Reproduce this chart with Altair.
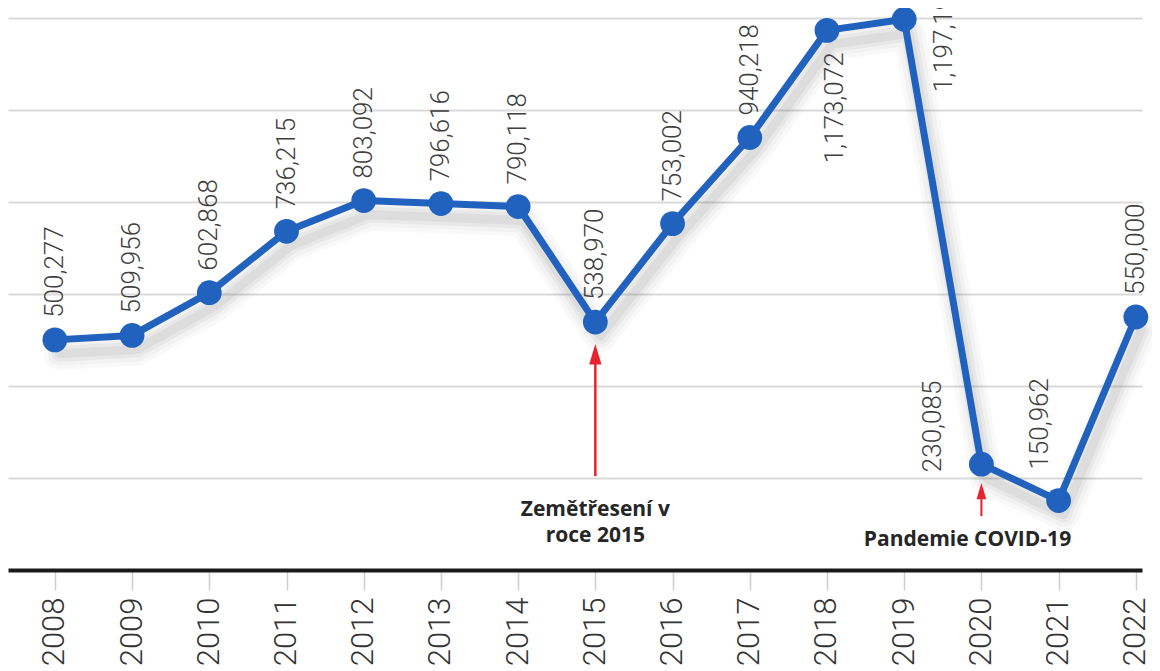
import altair as alt
import pandas as pd

# ---- data ----
years = [2008, 2009, 2010, 2011, 2012, 2013, 2014, 2015,
         2016, 2017, 2018, 2019, 2020, 2021, 2022]
arrivals = [500277, 509956, 602868, 736215, 803092, 796616, 790118, 538970,
            753002, 940218, 1173072, 1197191, 230085, 150962, 550000]

grid_values = [200000, 400000, 600000, 800000, 1000000, 1200000]

# label placement groups (relative to the point)
labels_above = [2008, 2009, 2010, 2011, 2012, 2013, 2014, 2015, 2016, 2017, 2022]
labels_below = [2018]
labels_right = [2019]
labels_left_2020 = [2020]
labels_left_2021 = [2021]

# annotations
quake_text = ["Zemětřesení v", "roce 2015"]
quake_year = [2015]
quake_text_value = [130000]
quake_shaft_from = [204000]
quake_shaft_to = [462000]
quake_head_value = [469000]

covid_text = ["Pandemie COVID-19"]
covid_text_year = [2019.82]
covid_text_value = [65000]
covid_year = [2020]
covid_shaft_from = [117000]
covid_shaft_to = [168000]
covid_head_value = [171500]

BLUE = "#2262bf"
RED = "#e8232d"
NARROW = "Roboto, Liberation Sans, sans-serif"

df = pd.DataFrame({"year": years, "arrivals": arrivals})

xscale = alt.Scale(domain=[2007.393, 2022.08], nice=False, zero=False)
yscale = alt.Scale(domain=[0, 1200000], nice=False, zero=True)

x = alt.X("year:Q", scale=xscale,
          axis=alt.Axis(values=years, format="d", title=None, grid=False,
                        labelAngle=270, labelAlign="right", labelBaseline="middle",
                        labelFont=NARROW, labelFontSize=31, labelFontWeight=300,
                        labelColor="#333333",
                        labelPadding=7, labelOverlap=False, labelFlush=False,
                        tickSize=20, tickColor="#cfcfcf", tickWidth=1.5,
                        domainColor="#1a1a1a", domainWidth=4))
y = alt.Y("arrivals:Q", scale=yscale,
          axis=alt.Axis(values=grid_values, grid=True, gridColor="#dadada", gridWidth=2,
                        labels=False, ticks=False, domain=False, title=None))

base = alt.Chart(df).encode(x=x, y=y)

# soft drop shadow under the line (several faint wide strokes)
shadows = [
    base.mark_line(color="#555555", opacity=op, strokeWidth=w, xOffset=5, yOffset=14,
                   strokeJoin="round", strokeCap="round")
    for w, op in [(32, 0.035), (24, 0.045), (16, 0.06), (9, 0.07)]
]

line = base.mark_line(color=BLUE, strokeWidth=7, strokeJoin="round")
points = base.mark_circle(color=BLUE, size=615, opacity=1)

def label_layer(yrs, **kw):
    return base.transform_filter(
        alt.FieldOneOfPredicate(field="year", oneOf=yrs)
    ).mark_text(angle=270, baseline="middle", font=NARROW, fontSize=26, fontWeight=300,
                color="#404040", **kw).encode(text=alt.Text("arrivals:Q", format=","))

lab_above = label_layer(labels_above, align="left", dx=22, dy=0)
lab_below = label_layer(labels_below, align="right", dx=-22, dy=8)
lab_right = label_layer(labels_right, align="left", dx=-73, dy=40)
lab_l20 = label_layer(labels_left_2020, align="left", dx=-8, dy=-48)
lab_l21 = label_layer(labels_left_2021, align="left", dx=31, dy=-19)

arrow_path = "M0,-1L0.6,1L-0.6,1Z"

quake_df = pd.DataFrame({"year": quake_year, "from": quake_shaft_from,
                         "to": quake_shaft_to, "head": quake_head_value})
quake_shaft = alt.Chart(quake_df).mark_rule(color=RED, strokeWidth=2.5).encode(
    x=alt.X("year:Q", scale=xscale), y=alt.Y("from:Q", scale=yscale), y2="to:Q")
quake_head = alt.Chart(quake_df).mark_point(shape=arrow_path, filled=True, color=RED,
                                            size=420, opacity=1).encode(
    x=alt.X("year:Q", scale=xscale), y=alt.Y("head:Q", scale=yscale))
quake_lbl = alt.Chart(pd.DataFrame({"year": quake_year, "v": quake_text_value,
                                    "t": ["\n".join(quake_text)]})).mark_text(
    font="Open Sans", fontWeight="bold", fontSize=21, color="#262626",
    lineBreak="\n", lineHeight=26, align="center", baseline="middle").encode(
    x=alt.X("year:Q", scale=xscale), y=alt.Y("v:Q", scale=yscale), text="t:N")

covid_df = pd.DataFrame({"year": covid_year, "from": covid_shaft_from,
                         "to": covid_shaft_to, "head": covid_head_value})
covid_shaft = alt.Chart(covid_df).mark_rule(color=RED, strokeWidth=2).encode(
    x=alt.X("year:Q", scale=xscale), y=alt.Y("from:Q", scale=yscale), y2="to:Q")
covid_head = alt.Chart(covid_df).mark_point(shape=arrow_path, filled=True, color=RED,
                                            size=260, opacity=1).encode(
    x=alt.X("year:Q", scale=xscale), y=alt.Y("head:Q", scale=yscale))
covid_lbl = alt.Chart(pd.DataFrame({"year": covid_text_year, "v": covid_text_value,
                                    "t": covid_text})).mark_text(
    font="Open Sans", fontWeight="bold", fontSize=21, color="#262626",
    align="center", baseline="middle").encode(
    x=alt.X("year:Q", scale=xscale), y=alt.Y("v:Q", scale=yscale), text="t:N")

chart = alt.layer(
    *shadows, line, points, lab_above, lab_below, lab_right, lab_l20, lab_l21,
    quake_shaft, quake_head, quake_lbl, covid_shaft, covid_head, covid_lbl
).properties(
    width=1134, height=552,
    padding={"left": 0, "top": 10, "right": 10, "bottom": 100},
    autosize=alt.AutoSizeParams(type="none"),
    background="white",
).configure_view(stroke=None)

chart.save("out.html", embed_options={"renderer": "svg", "actions": False})
